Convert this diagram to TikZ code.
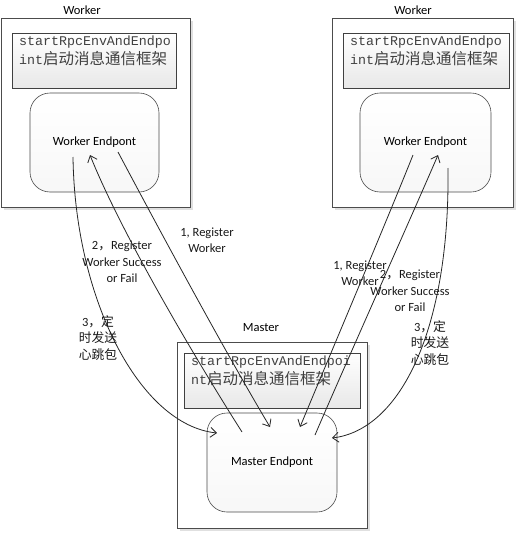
\documentclass[tikz,border=0pt]{standalone}
\usepackage{fontspec}
\setmainfont{Carlito}
\newfontfamily\cjk{Noto Sans CJK SC}
\newfontfamily\mono{Liberation Mono}
\usetikzlibrary{arrows.meta,shadows}
\tikzset{
  outerbox/.style={draw=black!70, fill=white, line width=0.6pt, inner sep=0,
    drop shadow={shadow xshift=2.5pt, shadow yshift=-2.5pt, fill=black!12, opacity=1}},
  framebox/.style={draw=black!75, line width=0.6pt, top color=white, bottom color=black!9, inner sep=0},
  endbox/.style={draw=black!70, line width=0.6pt, rounded corners=20pt, top color=white, bottom color=black!3, inner sep=0,
    font=\fontsize{12.5}{15}\selectfont},
  title/.style={font=\fontsize{12.5}{15}\selectfont, inner sep=0},
  fwtext/.style={anchor=north west, align=left, inner sep=0, font=\fontsize{13.3}{19}\mono, text=black!75},
  lbl/.style={font=\fontsize{12.5}{16.5}\selectfont, align=center, inner sep=0, text=black!90},
  msg/.style={draw=black!85, line width=0.8pt, -{Straight Barb[length=6pt,width=10pt,line width=0.8pt]}},
}
\newcommand{\cz}[1]{{\fontsize{15.5}{19}\cjk #1}}
\newcommand{\cl}[1]{{\fontsize{12.8}{16.5}\cjk #1}}
\begin{document}
\begin{tikzpicture}[x=1pt,y=-1pt]
\useasboundingbox (0,0) rectangle (523,533);
% Left worker
\node[title] (lwt) at (82,10) {Worker};
\node[outerbox, minimum width=189pt, minimum height=189pt] (lw) at (95.5,112.5) {};
\node[framebox, minimum width=164pt, minimum height=55pt] (lwf) at (94,60.5) {};
\node[fwtext] (lwft) at (19,36) {startRpcEnvAndEndpo\\int\cz{启动消息通信框架}};
\node[endbox, minimum width=129pt, minimum height=99pt] (lwe) at (94.5,142.5) {Worker Endpont};
% Right worker
\node[title] (rwt) at (413,10) {Worker};
\node[outerbox, minimum width=181pt, minimum height=189pt] (rw) at (422.5,112.5) {};
\node[framebox, minimum width=166pt, minimum height=55pt] (rwf) at (426,60.5) {};
\node[fwtext] (rwft) at (350,36) {startRpcEnvAndEndpo\\int\cz{启动消息通信框架}};
\node[endbox, minimum width=131pt, minimum height=99pt] (rwe) at (425.5,142.5) {Worker Endpont};
% Master
\node[title] (mt) at (261,328) {Master};
\node[outerbox, minimum width=190pt, minimum height=186pt] (m) at (272,435) {};
\node[framebox, minimum width=176pt, minimum height=55pt] (mf) at (272,380.5) {};
\node[fwtext] (mft) at (191,356) {startRpcEnvAndEndpoi\\nt\cz{启动消息通信框架}};
\node[endbox, minimum width=130pt, minimum height=99pt] (me) at (272,462.5) {Master Endpont};
% arrow end points
\coordinate (l1s) at (118,152);
\coordinate (l1e) at (270,427);
\coordinate (l2s) at (242,432);
\coordinate (l2e) at (90,155);
\coordinate (l3s) at (73,157);
\coordinate (l3e) at (217,433);
\coordinate (r1s) at (413,155);
\coordinate (r1e) at (300,427);
\coordinate (r2s) at (315,435);
\coordinate (r2e) at (438,155);
\coordinate (r3s) at (448,168);
\coordinate (r3e) at (332,438);
% arrows
\draw[msg] (l1s) .. controls (170,250) and (230,360) .. (l1e);
\draw[msg] (l2s) .. controls (190,350) and (120,230) .. (l2e);
\draw[msg] (l3s) .. controls (75,300) and (140,425) .. (l3e);
\draw[msg] (r1s) .. controls (385,225) and (330,355) .. (r1e);
\draw[msg] (r2s) .. controls (345,365) and (410,220) .. (r2e);
\draw[msg] (r3s) .. controls (450,330) and (400,430) .. (r3e);
% labels
\node[lbl] (a1) at (207,240) {1, Register\\Worker};
\node[lbl] (a2) at (122,262) {2\cl{，}Register\\Worker Success\\or Fail};
\node[lbl] (a3) at (98,338) {3\cl{，定}\\\cl{时发送}\\\cl{心跳包}};
\node[lbl] (b1) at (360,273) {1, Register\\Worker};
\node[lbl] (b2) at (410,291) {2\cl{，}Register\\Worker Success\\or Fail};
\node[lbl] (b3) at (430,343) {3\cl{，定}\\\cl{时发送}\\\cl{心跳包}};
\end{tikzpicture}
\end{document}
